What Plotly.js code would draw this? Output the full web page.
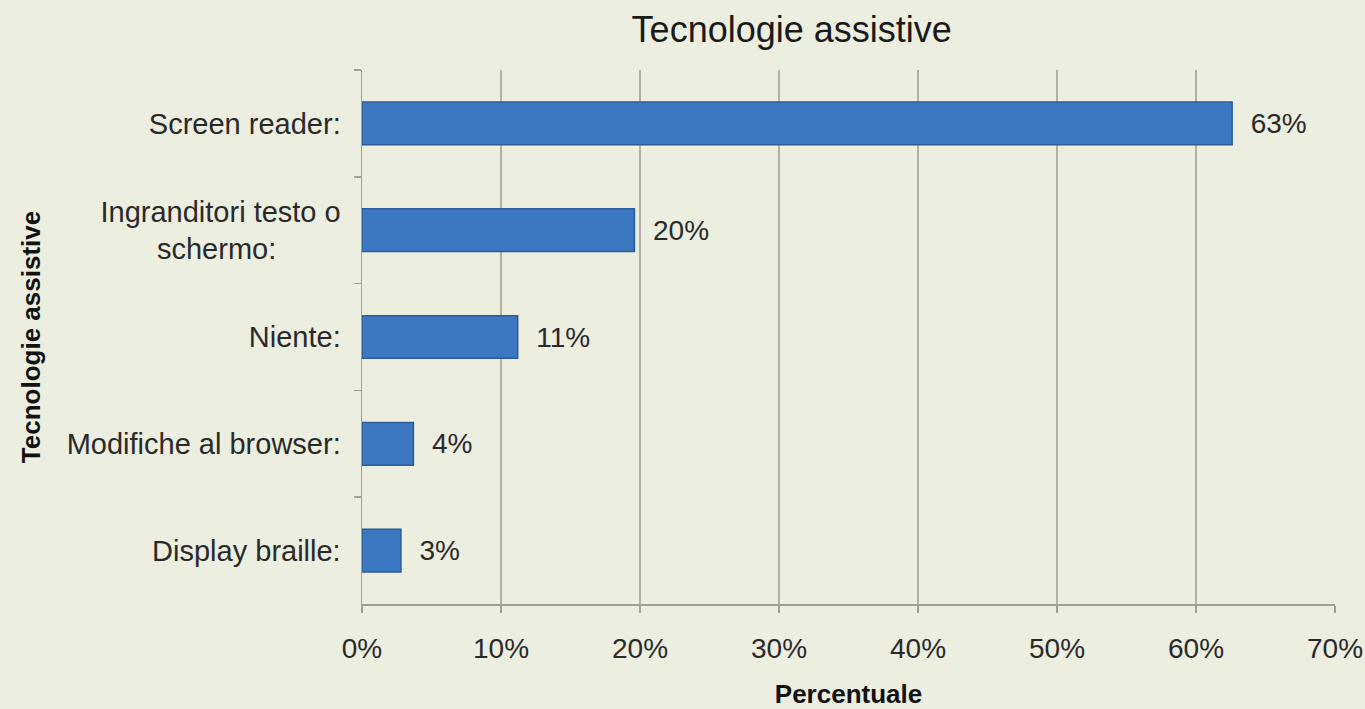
<!DOCTYPE html>
<html>
<head>
<meta charset="utf-8">
<script src="https://cdn.plot.ly/plotly-3.0.1.min.js"></script>
<style>html,body{margin:0;padding:0;background:#ECEEE0;}#chart{width:1365px;height:709px;}</style>
</head>
<body>
<div id="chart"></div>
<script>
const categories = ["Screen reader:", "Ingranditori testo o<br>schermo:" + "\u00a0".repeat(8), "Niente:", "Modifiche al browser:", "Display braille:"];
const values = [62.6, 19.6, 11.2, 3.7, 2.8];
const valueLabels = ["63%", "20%", "11%", "4%", "3%"];
const xTickVals = [0, 10, 20, 30, 40, 50, 60, 70];
const xTickText = ["0%", "10%", "20%", "30%", "40%", "50%", "60%", "70%"];

const font = "Liberation Sans, Arial, sans-serif";
const trace = {
  type: "bar",
  orientation: "h",
  y: categories,
  x: values,
  text: valueLabels.map(t => "\u00a0\u00a0" + t),
  textposition: "outside",
  cliponaxis: false,
  textfont: {family: font, size: 28, color: "#2a2a2a"},
  width: 0.4,
  marker: {color: "#3C78C1", line: {color: "#2C5C98", width: 1.5}},
  hoverinfo: "none"
};
const layout = {
  width: 1365, height: 709,
  paper_bgcolor: "#ECEEE0", plot_bgcolor: "#ECEEE0",
  margin: {l: 362, r: 30, t: 70, b: 105},
  showlegend: false,
  title: {text: "Tecnologie assistive", font: {family: font, size: 36, color: "#1a1a1a"}, x: 0.58, xref: "container", y: 0.958, yref: "container", yanchor: "middle"},
  xaxis: {
    range: [0, 70], tickvals: xTickVals, ticktext: xTickText,
    showgrid: true, gridcolor: "#B0B0A8", gridwidth: 1.5,
    showline: true, linecolor: "#A0A098", linewidth: 1.5,
    ticks: "outside", ticklen: 7, tickcolor: "#A0A098", tickwidth: 1.5,
    ticklabelstandoff: 12,
    tickfont: {family: font, size: 28, color: "#2a2a2a"},
    zeroline: false,
    title: {text: "Percentuale", font: {family: font, size: 26, color: "#111", weight: "bold"}, standoff: 30}
  },
  yaxis: {
    type: "category", autorange: "reversed",
    tickson: "boundaries",
    showgrid: false,
    showline: true, linecolor: "#A0A098", linewidth: 1.5,
    ticks: "outside", ticklen: 7, tickcolor: "#A0A098", tickwidth: 1.5,
    ticklabelstandoff: 14,
    tickfont: {family: font, size: 29, color: "#2a2a2a"},
    title: {text: "Tecnologie assistive", font: {family: font, size: 26, color: "#111", weight: "bold"}, standoff: 18}
  }
};
Plotly.newPlot("chart", [trace], layout, {displayModeBar: false, staticPlot: true});
</script>
</body>
</html>
